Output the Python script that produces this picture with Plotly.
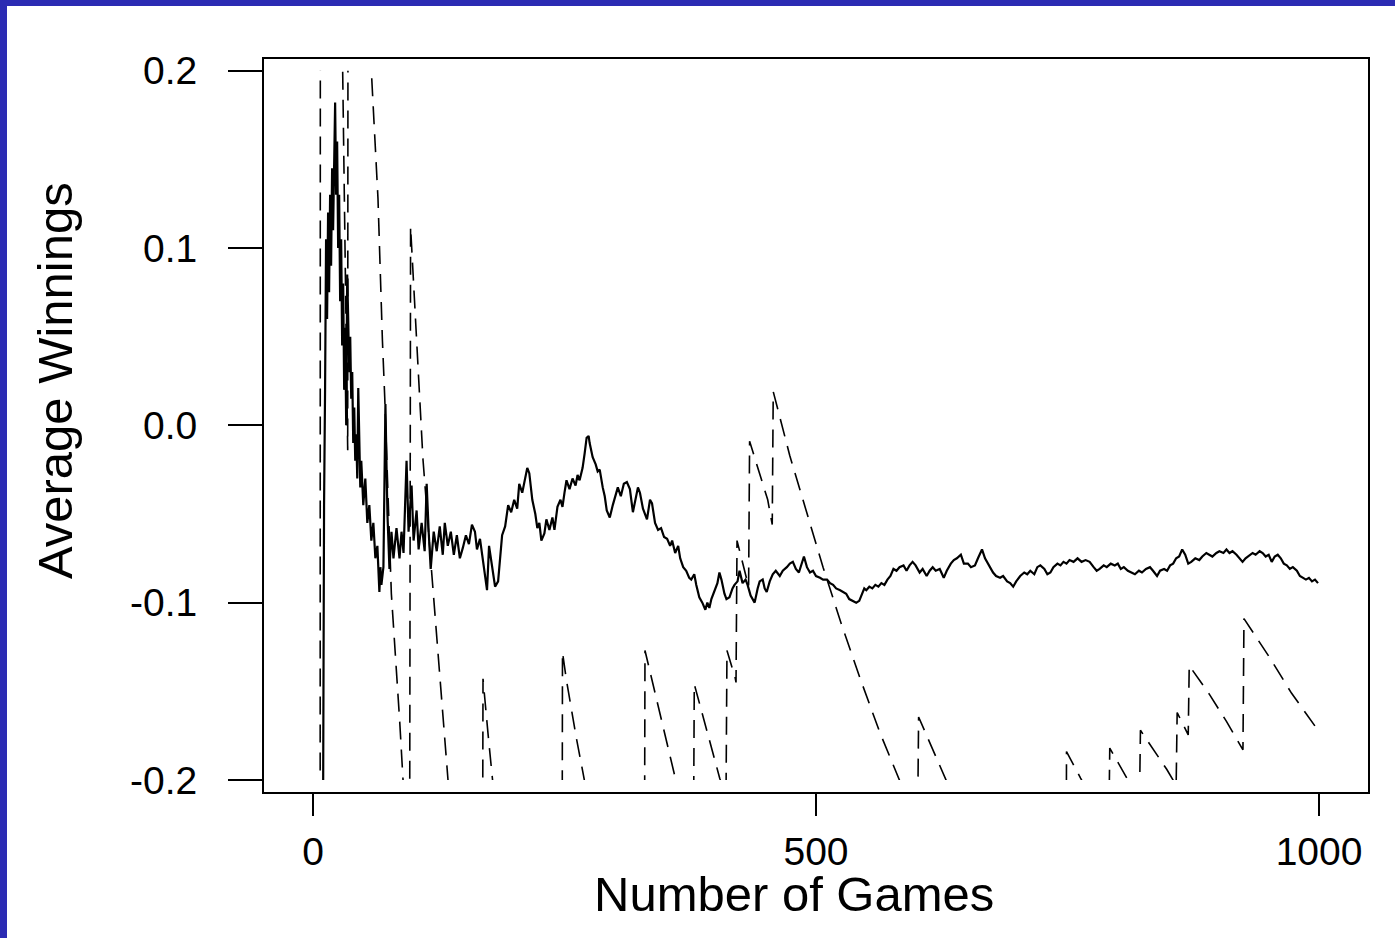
import plotly.graph_objects as go

# ---------------- data ----------------
solid_games = [9, 10, 11, 12, 13, 14, 15, 16, 17, 18, 19, 20, 21, 22, 23, 24, 25, 26, 27, 28, 29, 30,
               31, 32, 33, 34, 35, 36, 37, 38, 39, 40, 41, 42, 43, 44, 45, 46, 47, 48, 50, 52, 54, 56,
               58, 60, 62, 64, 66, 67, 68, 70, 72, 73, 74, 76, 78, 80, 83, 86, 88, 90, 93, 95, 98, 100,
               103, 105, 108, 111, 113, 115, 117, 120, 123, 126, 129, 131, 134, 137, 140, 143, 146, 149,
               152, 155, 158, 161, 163, 166, 169, 171, 173, 175, 178, 181, 184, 186, 188, 191, 194, 197,
               200, 203, 205, 208, 211, 213, 215, 218, 221, 223, 225, 227, 230, 232, 235, 238, 240, 243,
               246, 248, 250, 252, 255, 258, 261, 263, 265, 268, 270, 272, 274, 275, 278, 281, 283, 285,
               288, 290, 292, 295, 298, 301, 303, 306, 309, 312, 315, 318, 320, 323, 325, 328, 332, 335,
               337, 340, 343, 346, 349, 352, 355, 357, 360, 363, 365, 368, 371, 374, 376, 379, 381, 384,
               387, 390, 392, 394, 396, 399, 402, 404, 406, 409, 411, 414, 417, 419, 422, 424, 427, 430,
               432, 435, 437, 439, 442, 444, 447, 449, 451, 454, 457, 460, 464, 467, 471, 474, 477, 480,
               483, 486, 488, 491, 494, 497, 500, 504, 507, 511, 514, 517, 520, 524, 527, 530, 533, 536,
               540, 543, 546, 548, 550, 553, 556, 559, 562, 565, 568, 571, 574, 577, 580, 583, 587, 590,
               593, 596, 599, 603, 606, 610, 613, 616, 619, 623, 627, 630, 634, 637, 640, 644, 647, 651,
               654, 658, 661, 665, 668, 672, 676, 679, 683, 686, 690, 693, 696, 699, 703, 707, 710, 713,
               717, 720, 723, 727, 730, 733, 736, 740, 743, 746, 749, 752, 756, 760, 764, 768, 772, 776,
               779, 782, 786, 789, 793, 797, 800, 803, 806, 810, 813, 817, 821, 824, 828, 832, 835, 839,
               842, 846, 849, 852, 855, 858, 861, 864, 867, 870, 873, 877, 881, 884, 888, 891, 894, 898,
               901, 905, 908, 911, 914, 918, 921, 924, 927, 931, 934, 937, 941, 944, 947, 950, 953, 956,
               959, 962, 965, 968, 971, 974, 978, 981, 984, 987, 990, 993, 996, 999]
solid_avg = [-0.40, -0.20, -0.045, 0.02, 0.105, 0.06, 0.12, 0.075, 0.13, 0.09, 0.145, 0.11, 0.155, 0.182,
             0.13, 0.16, 0.10, 0.13, 0.07, 0.105, 0.045, 0.08, 0.02, 0.055, 0.0, 0.085, 0.06, 0.03, 0.05,
             0.015, 0.03, -0.01, 0.01, -0.02, -0.005, -0.03, 0.021, -0.02, -0.035, -0.02, -0.045, -0.03,
             -0.055, -0.045, -0.065, -0.055, -0.075, -0.068, -0.094, -0.08, -0.09, -0.08, 0.012, -0.02,
             -0.05, -0.081, -0.06, -0.075, -0.058, -0.075, -0.06, -0.072, -0.02, -0.06, -0.034, -0.065,
             -0.048, -0.07, -0.055, -0.071, -0.033, -0.06, -0.081, -0.06, -0.071, -0.057, -0.073, -0.055,
             -0.068, -0.06, -0.073, -0.062, -0.075, -0.069, -0.062, -0.067, -0.056, -0.06, -0.07, -0.064,
             -0.076, -0.085, -0.093, -0.068, -0.08, -0.091, -0.088, -0.075, -0.062, -0.057, -0.045, -0.049,
             -0.042, -0.047, -0.033, -0.038, -0.03, -0.024, -0.027, -0.042, -0.05, -0.058, -0.055, -0.065,
             -0.061, -0.053, -0.059, -0.052, -0.059, -0.046, -0.042, -0.046, -0.038, -0.031, -0.036, -0.03,
             -0.034, -0.028, -0.031, -0.024, -0.016, -0.007, -0.006, -0.01, -0.018, -0.022, -0.026, -0.025,
             -0.035, -0.04, -0.048, -0.052, -0.045, -0.038, -0.035, -0.04, -0.033, -0.032, -0.036, -0.049,
             -0.043, -0.035, -0.038, -0.047, -0.053, -0.042, -0.044, -0.055, -0.059, -0.058, -0.063, -0.064,
             -0.068, -0.065, -0.072, -0.068, -0.075, -0.08, -0.082, -0.086, -0.087, -0.084, -0.09, -0.097,
             -0.1, -0.104, -0.1, -0.103, -0.098, -0.093, -0.089, -0.083, -0.087, -0.095, -0.098, -0.097,
             -0.092, -0.09, -0.088, -0.082, -0.089, -0.087, -0.09, -0.096, -0.098, -0.1, -0.092, -0.088,
             -0.087, -0.092, -0.094, -0.088, -0.084, -0.082, -0.085, -0.082, -0.08, -0.078, -0.077, -0.081,
             -0.083, -0.078, -0.074, -0.08, -0.083, -0.082, -0.085, -0.086, -0.087, -0.087, -0.089, -0.09,
             -0.092, -0.093, -0.094, -0.095, -0.098, -0.099, -0.1, -0.099, -0.095, -0.092, -0.093, -0.091,
             -0.092, -0.09, -0.091, -0.089, -0.09, -0.087, -0.085, -0.081, -0.082, -0.08, -0.079, -0.082,
             -0.079, -0.077, -0.079, -0.083, -0.081, -0.085, -0.082, -0.08, -0.082, -0.081, -0.086, -0.082,
             -0.078, -0.076, -0.075, -0.073, -0.078, -0.078, -0.08, -0.079, -0.075, -0.07, -0.075, -0.079,
             -0.083, -0.085, -0.086, -0.085, -0.088, -0.089, -0.091, -0.088, -0.085, -0.083, -0.084, -0.082,
             -0.084, -0.08, -0.079, -0.081, -0.084, -0.083, -0.08, -0.078, -0.079, -0.077, -0.078, -0.076,
             -0.077, -0.075, -0.077, -0.076, -0.077, -0.08, -0.082, -0.081, -0.079, -0.08, -0.078, -0.079,
             -0.078, -0.081, -0.08, -0.082, -0.083, -0.084, -0.082, -0.083, -0.081, -0.08, -0.082, -0.085,
             -0.082, -0.081, -0.082, -0.079, -0.078, -0.075, -0.074, -0.07, -0.073, -0.078, -0.077, -0.075,
             -0.076, -0.074, -0.072, -0.073, -0.074, -0.072, -0.071, -0.072, -0.07, -0.072, -0.071, -0.073,
             -0.075, -0.077, -0.075, -0.073, -0.072, -0.073, -0.071, -0.072, -0.074, -0.073, -0.077, -0.074,
             -0.073, -0.075, -0.078, -0.079, -0.081, -0.08, -0.082, -0.085, -0.086, -0.087, -0.086, -0.088,
             -0.087, -0.089]

dash_games = [1, 7, 8, 29.5, 34.5, 35.5, 58, 64.6, 69, 71.3, 77.9, 82.9, 86.2, 89.5, 96, 97, 102.8,
              109.3, 117.7, 124.3, 134.2, 168, 169, 174, 177.3, 179, 247, 248, 252, 257, 262, 268.4, 270,
              329, 330, 357.6, 361, 378, 379, 404.3, 406, 410.5, 411.5, 419.7, 420.5, 421.5, 433, 434,
              452, 456.5, 457.5, 473.9, 490.5, 507, 525.2, 543.4, 563.3, 583.2, 601, 602, 628.5, 630,
              748, 749, 763, 765, 791, 792, 809, 811, 821.5, 822.5, 848.6, 855, 858, 859, 870, 871,
              891.4, 908, 924.4, 925.4, 951, 972.6, 999]
dash_avg = [-1.0, -0.55, 2.0, 0.2, -0.014, 0.9, 0.2, 0.128, 0.048, 0.016, -0.095, -0.135, -0.167,
            -0.2, -0.27, 0.112, 0.048, -0.019, -0.081, -0.13, -0.2, -0.4, -0.143, -0.174, -0.193, -0.203,
            -0.5, -0.128, -0.144, -0.161, -0.177, -0.196, -0.201, -0.38, -0.127, -0.193, -0.201, -0.26,
            -0.146, -0.199, -0.202, -0.215, -0.127, -0.1425, -0.145, -0.065, -0.091, -0.009, -0.042,
            -0.056, 0.019, -0.017, -0.049, -0.08, -0.112, -0.142, -0.173, -0.2, -0.225, -0.1645, -0.199,
            -0.201, -0.42, -0.184, -0.199, -0.201, -0.23, -0.182, -0.199, -0.201, -0.215, -0.172, -0.194,
            -0.2, -0.203, -0.162, -0.1746, -0.1355, -0.152, -0.167, -0.183, -0.109, -0.131, -0.151, -0.172]

x_tick_vals = [0, 500, 1000]
x_tick_text = ["0", "500", "1000"]
y_tick_vals = [-0.2, -0.1, 0.0, 0.1, 0.2]
y_tick_text = ["-0.2", "-0.1", "0.0", "0.1", "0.2"]

x_title = "Number of Games"
y_title = "Average Winnings"

# ---------------- layout geometry ----------------
W, H = 1395, 938
L, R, T, B = 264, 27, 59, 146
x_range = [-48.7, 1048.7]
y_box_range = [-0.2068, 0.2066]
y_data_range = [-0.2, 0.2]
span = y_box_range[1] - y_box_range[0]
d0 = (y_data_range[0] - y_box_range[0]) / span
d1 = (y_data_range[1] - y_box_range[0]) / span

FONT = "Liberation Sans, Arial, sans-serif"
BLUE = "#2b2bb3"

fig = go.Figure()
# empty trace so that the frame axes (x, y) form a drawn subplot
fig.add_trace(go.Scatter(x=[], y=[], mode="lines", xaxis="x", yaxis="y",
                         showlegend=False, hoverinfo="skip"))
fig.add_trace(go.Scatter(x=dash_games, y=dash_avg, mode="lines", xaxis="x", yaxis="y2",
                         line=dict(color="black", width=1.6, dash="18px,10px"),
                         showlegend=False, hoverinfo="skip"))
fig.add_trace(go.Scatter(x=solid_games, y=solid_avg, mode="lines", xaxis="x", yaxis="y2",
                         line=dict(color="black", width=2.2),
                         showlegend=False, hoverinfo="skip"))

pw = W - L - R
ph = H - T - B

fig.update_layout(
    width=W, height=H,
    margin=dict(l=L, r=R, t=T, b=B, pad=0),
    paper_bgcolor="white", plot_bgcolor="white",
    font=dict(family=FONT, color="black"),
    xaxis=dict(range=x_range, domain=[0, 1], anchor="y",
               tickmode="array", tickvals=x_tick_vals, ticktext=x_tick_text,
               ticks="outside", ticklen=22, tickwidth=2, tickcolor="black",
               tickfont=dict(size=39, family=FONT, color="black"),
               ticklabelstandoff=2,
               showline=True, mirror=True, linecolor="black", linewidth=2,
               showgrid=False, zeroline=False),
    yaxis=dict(range=y_box_range, domain=[0, 1], anchor="x",
               tickmode="array", tickvals=y_tick_vals, ticktext=y_tick_text,
               ticks="outside", ticklen=34, tickwidth=2, tickcolor="black",
               tickfont=dict(size=39, family=FONT, color="black"),
               ticklabelstandoff=23,
               showline=True, mirror=True, linecolor="black", linewidth=2,
               showgrid=False, zeroline=False),
    yaxis2=dict(range=y_data_range, domain=[d0, d1], anchor="x", visible=False,
                showgrid=False, zeroline=False),
    shapes=[
        dict(type="rect", xref="paper", yref="paper",
             x0=-L / pw, x1=(7 - L) / pw, y0=-B / ph, y1=1 + T / ph,
             fillcolor=BLUE, line=dict(width=0), layer="below"),
        dict(type="rect", xref="paper", yref="paper",
             x0=-L / pw, x1=1 + R / pw, y0=1 + (T - 6) / ph, y1=1 + T / ph,
             fillcolor=BLUE, line=dict(width=0), layer="below"),
    ],
    annotations=[
        dict(text=x_title, xref="paper", yref="paper",
             x=(794 - L) / pw, y=-(894 - (H - B)) / ph,
             xanchor="center", yanchor="middle", showarrow=False,
             font=dict(size=49, family=FONT, color="black")),
        dict(text=y_title, xref="paper", yref="paper",
             x=-(L - 55) / pw, y=(H - B - 381) / ph,
             xanchor="center", yanchor="middle", showarrow=False, textangle=-90,
             font=dict(size=49, family=FONT, color="black")),
    ],
)

fig.write_html("out.html", config={"displayModeBar": False},
               post_script="document.body.style.margin='0';")
